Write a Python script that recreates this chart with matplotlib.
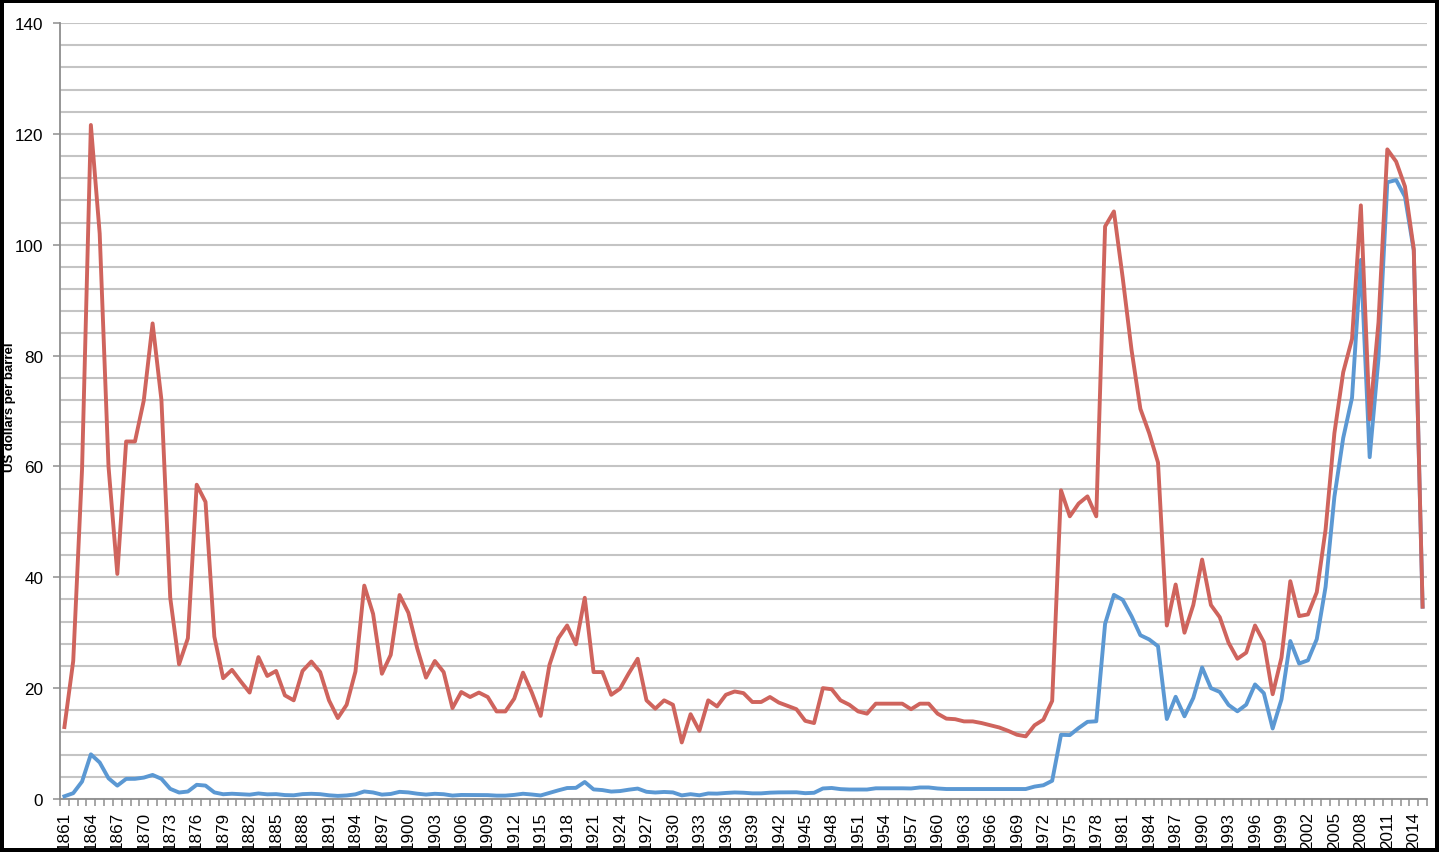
import matplotlib.pyplot as plt
from matplotlib.ticker import FixedLocator, MultipleLocator

# years 1861-2015 (one category per year)
years = list(range(1861, 2016))

# blue series - money of the day
nominal = [
    0.49, 1.05, 3.15, 8.06, 6.59, 3.74, 2.41, 3.63, 3.64, 3.86,   # 1861-1870
    4.34, 3.64, 1.83, 1.17, 1.35, 2.56, 2.42, 1.19, 0.86, 0.95,   # 1871-1880
    0.86, 0.78, 1.00, 0.84, 0.88, 0.71, 0.67, 0.88, 0.94, 0.87,   # 1881-1890
    0.67, 0.56, 0.64, 0.84, 1.36, 1.18, 0.79, 0.91, 1.29, 1.19,   # 1891-1900
    0.96, 0.80, 0.94, 0.86, 0.62, 0.73, 0.72, 0.72, 0.70, 0.61,   # 1901-1910
    0.61, 0.74, 0.95, 0.81, 0.64, 1.10, 1.56, 1.98, 2.01, 3.07,   # 1911-1920
    1.73, 1.61, 1.34, 1.43, 1.68, 1.88, 1.30, 1.17, 1.27, 1.19,   # 1921-1930
    0.65, 0.87, 0.67, 1.00, 0.97, 1.09, 1.18, 1.13, 1.02, 1.02,   # 1931-1940
    1.14, 1.19, 1.20, 1.21, 1.05, 1.12, 1.90, 1.99, 1.78, 1.71,   # 1941-1950
    1.71, 1.71, 1.93, 1.93, 1.93, 1.93, 1.90, 2.08, 2.08, 1.90,   # 1951-1960
    1.80, 1.80, 1.80, 1.80, 1.80, 1.80, 1.80, 1.80, 1.80, 1.80,   # 1961-1970
    2.24, 2.48, 3.29, 11.58, 11.53, 12.80, 13.92, 14.02, 31.61, 36.83,   # 1971-1980
    35.93, 32.97, 29.55, 28.78, 27.56, 14.43, 18.44, 14.92, 18.23, 23.73,   # 1981-1990
    20.00, 19.32, 16.97, 15.82, 17.02, 20.67, 19.09, 12.72, 17.97, 28.50,   # 1991-2000
    24.44, 25.02, 28.83, 38.27, 54.52, 65.14, 72.39, 97.26, 61.67, 79.50,   # 2001-2010
    111.26, 111.67, 108.66, 98.95, 34.7,                                    # 2011-2015
]

# red series - constant dollars
real = [
    12.98, 24.9, 59.5, 121.6, 102.0, 60.0, 40.6, 64.5, 64.5, 71.9,   # 1861-1870
    85.8, 72.0, 36.3, 24.3, 29.0, 56.7, 53.6, 29.3, 21.8, 23.3,      # 1871-1880
    21.2, 19.2, 25.6, 22.2, 23.1, 18.7, 17.8, 23.1, 24.8, 22.9,      # 1881-1890
    17.8, 14.6, 17.0, 23.0, 38.5, 33.4, 22.6, 26.0, 36.8, 33.6,      # 1891-1900
    27.2, 21.9, 24.9, 22.9, 16.4, 19.3, 18.4, 19.2, 18.4, 15.8,      # 1901-1910
    15.8, 18.1, 22.8, 19.2, 15.0, 24.2, 29.0, 31.3, 27.9, 36.3,      # 1911-1920
    22.9, 22.9, 18.8, 19.9, 22.7, 25.3, 17.8, 16.3, 17.8, 17.0,      # 1921-1930
    10.2, 15.3, 12.3, 17.8, 16.7, 18.8, 19.4, 19.1, 17.5, 17.5,      # 1931-1940
    18.4, 17.4, 16.8, 16.2, 14.1, 13.7, 20.0, 19.8, 17.8, 17.0,      # 1941-1950
    15.8, 15.4, 17.2, 17.2, 17.2, 17.2, 16.2, 17.2, 17.2, 15.4,      # 1951-1960
    14.5, 14.4, 14.0, 14.0, 13.7, 13.3, 12.9, 12.3, 11.6, 11.3,      # 1961-1970
    13.3, 14.3, 17.7, 55.7, 51.0, 53.3, 54.6, 51.0, 103.3, 106.0,    # 1971-1980
    94.0, 81.0, 70.4, 66.0, 60.7, 31.3, 38.7, 30.0, 35.0, 43.2,      # 1981-1990
    35.0, 32.8, 28.2, 25.3, 26.4, 31.3, 28.3, 18.9, 25.5, 39.3,      # 1991-2000
    33.0, 33.3, 37.3, 48.6, 66.0, 77.0, 83.0, 107.1, 68.5, 86.0,     # 2001-2010
    117.2, 115.0, 110.5, 99.2, 34.7,                                 # 2011-2015
]

ylabel_text = "US dollars per barrel"

BLUE = "#5b98d3"
RED = "#cf645d"
GRID = "#c4c4c4"
AXIS = "#8e8e8e"

plt.rcParams["font.family"] = ["Liberation Sans", "DejaVu Sans"]

fig = plt.figure(figsize=(14.39, 8.53), dpi=100, facecolor="white",
                 edgecolor="black", linewidth=4.5)
W, H = 1439, 853
ax = fig.add_axes([60 / W, 1 - 800 / H, (1427 - 60) / W, (800 - 24) / H])

x = list(range(len(years)))
ax.plot(x, nominal, color=BLUE, lw=2.8, solid_joinstyle="round", zorder=3)
ax.plot(x, real, color=RED, lw=2.8, solid_joinstyle="round", zorder=4)

# y axis: labels every 20, gridlines every 4
ax.set_ylim(0, 140)
ax.yaxis.set_major_locator(MultipleLocator(20))
ax.yaxis.set_minor_locator(MultipleLocator(4))
ax.grid(axis="y", which="both", color=GRID, lw=1.5, zorder=1)
ax.tick_params(axis="y", which="major", length=5, width=1.1, color=AXIS,
               pad=7, labelsize=12.3)
ax.tick_params(axis="y", which="minor", length=0)

# x axis: ticks at category borders, label every third year
ax.set_xlim(-0.5, len(years) - 0.5)
ax.xaxis.set_major_locator(FixedLocator(x[::3]))
ax.set_xticklabels([str(y) for y in years[::3]], rotation=90)
ax.xaxis.set_minor_locator(FixedLocator([i - 0.5 for i in range(len(years) + 1)]))
ax.tick_params(axis="x", which="major", length=0, pad=8.5, labelsize=12.3)
ax.tick_params(axis="x", which="minor", length=5, width=1.1, color=AXIS)

for side in ("top", "right"):
    ax.spines[side].set_visible(False)
for side in ("left", "bottom"):
    ax.spines[side].set_color(AXIS)
    ax.spines[side].set_linewidth(1.3)
ax.set_axisbelow(True)

# axis title, squeezed against the left border
fig.text(4 / W, 1 - 407 / H, ylabel_text, rotation=90, ha="left",
         va="center", fontsize=9.5, fontweight="bold")

fig.savefig("out.png", dpi=100)
